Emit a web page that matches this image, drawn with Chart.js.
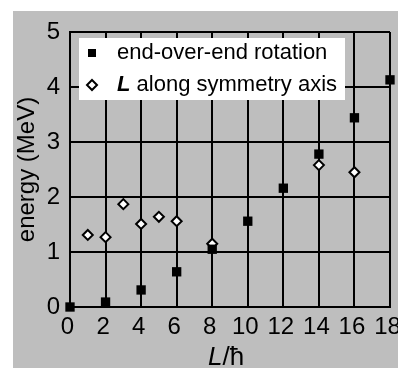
<!DOCTYPE html>
<html>
<head>
<meta charset="utf-8">
<script src="https://cdn.jsdelivr.net/npm/chart.js@4.4.1/dist/chart.umd.min.js"></script>
<style>
  html, body { margin: 0; padding: 0; background: #ffffff; width: 398px; height: 368px; overflow: hidden; }
  #wrap { position: absolute; left: 13px; top: 11px; width: 385px; height: 357px; background: #bebebe; }
  canvas { display: block; }
</style>
</head>
<body>
<div id="wrap"><canvas id="c" width="385" height="357"></canvas></div>
<script>
// Data
const rotLabel = "end-over-end rotation";
const rotL = [0, 2, 4, 6, 8, 10, 12, 14, 16, 18];
const rotE = [0.0, 0.09, 0.31, 0.64, 1.05, 1.56, 2.16, 2.78, 3.44, 4.13];

const symLabel = "L along symmetry axis";
const symL = [1, 2, 3, 4, 5, 6, 8, 14, 16];
const symE = [1.31, 1.27, 1.87, 1.51, 1.64, 1.56, 1.15, 2.58, 2.45];

const xTicks = [0, 2, 4, 6, 8, 10, 12, 14, 16, 18];
const yTicks = [0, 1, 2, 3, 4, 5];
const yTitle = "energy (MeV)";
const xTitleItalic = "L";
const xTitleRest = "/ħ";

const FONT = "'Liberation Sans', Arial, sans-serif";

const legendPlugin = {
  id: 'insideLegend',
  afterDatasetsDraw(chart) {
    const ctx = chart.ctx;
    const a = chart.chartArea;
    const bx = a.left + 9, by = a.top + 6, bw = 266, bh = 62;
    ctx.save();
    ctx.fillStyle = '#ffffff';
    ctx.fillRect(bx, by, bw, bh);
    const mx = a.left + 22;
    const r1 = a.top + 21, r2 = a.top + 53;
    ctx.fillStyle = '#000';
    ctx.fillRect(mx - 4, r1 - 4, 8, 8);
    ctx.beginPath();
    ctx.moveTo(mx, r2 - 5); ctx.lineTo(mx + 5, r2); ctx.lineTo(mx, r2 + 5); ctx.lineTo(mx - 5, r2); ctx.closePath();
    ctx.fillStyle = '#fff'; ctx.fill();
    ctx.lineWidth = 2; ctx.strokeStyle = '#000'; ctx.stroke();
    const tx = a.left + 47;
    ctx.fillStyle = '#000';
    ctx.textBaseline = 'middle';
    ctx.textAlign = 'left';
    ctx.font = "22px " + FONT;
    ctx.fillText(chart.data.datasets[0].label, tx, r1);
    const first = chart.data.datasets[1].label.slice(0, 1);
    const rest = chart.data.datasets[1].label.slice(1);
    ctx.font = "italic bold 22px " + FONT;
    ctx.fillText(first, tx, r2);
    const w = ctx.measureText(first).width;
    ctx.font = "22px " + FONT;
    ctx.fillText(rest, tx + w, r2);
    ctx.restore();
  },
  afterDraw(chart) {
    const ctx = chart.ctx;
    const a = chart.chartArea;
    ctx.save();
    ctx.fillStyle = '#000';
    ctx.textBaseline = 'alphabetic';
    ctx.textAlign = 'left';
    ctx.font = "italic 26px " + FONT;
    const w1 = ctx.measureText(xTitleItalic).width;
    ctx.font = "26px " + FONT;
    const w2 = ctx.measureText(xTitleRest).width;
    const cx = 222 - 13 + (w1 + w2) / 2;
    const x0 = 208 - 13;
    const y = a.bottom + 58;
    ctx.font = "italic 26px " + FONT;
    ctx.fillText(xTitleItalic, x0, y);
    ctx.font = "26px " + FONT;
    ctx.fillText(xTitleRest, x0 + w1, y);
    ctx.restore();
  }
};

new Chart(document.getElementById('c'), {
  type: 'scatter',
  data: {
    datasets: [
      {
        label: rotLabel,
        data: rotL.map((l, i) => ({ x: l, y: rotE[i] })),
        pointStyle: 'rect',
        pointRadius: 6.6,
        pointBackgroundColor: '#000',
        pointBorderWidth: 0,
        clip: false
      },
      {
        label: symLabel,
        data: symL.map((l, i) => ({ x: l, y: symE[i] })),
        pointStyle: 'rectRot',
        pointRadius: 5,
        pointBackgroundColor: '#fff',
        pointBorderColor: '#000',
        pointBorderWidth: 2,
        clip: false
      }
    ]
  },
  options: {
    responsive: false,
    animation: false,
    devicePixelRatio: 1,
    layout: { autoPadding: false, padding: { top: 21, right: 8, left: 0, bottom: 0 } },
    plugins: { legend: { display: false }, tooltip: { enabled: false } },
    scales: {
      x: {
        type: 'linear',
        min: 0, max: 18,
        afterFit: s => { s.height = 61; s.paddingLeft = 0; s.paddingRight = 0; },
        afterBuildTicks: s => { s.ticks = xTicks.map(v => ({ value: v })); },
        grid: { color: '#000', lineWidth: 2, drawTicks: false },
        border: { color: '#000', width: 2 },
        ticks: { color: '#000', font: { family: FONT, size: 24 }, padding: 6, labelOffset: -2.5, maxRotation: 0, autoSkip: false }
      },
      y: {
        min: 0, max: 5,
        afterFit: s => { s.width = 57; s.paddingTop = 0; s.paddingBottom = 0; },
        afterBuildTicks: s => { s.ticks = yTicks.map(v => ({ value: v })); },
        grid: { color: '#000', lineWidth: 2, drawTicks: false },
        border: { color: '#000', width: 2 },
        ticks: { color: '#000', font: { family: FONT, size: 24 }, padding: 10 },
        title: { display: true, text: yTitle, color: '#000', font: { family: FONT, size: 24 }, padding: 0 }
      }
    }
  },
  plugins: [legendPlugin]
});
</script>
</body>
</html>
